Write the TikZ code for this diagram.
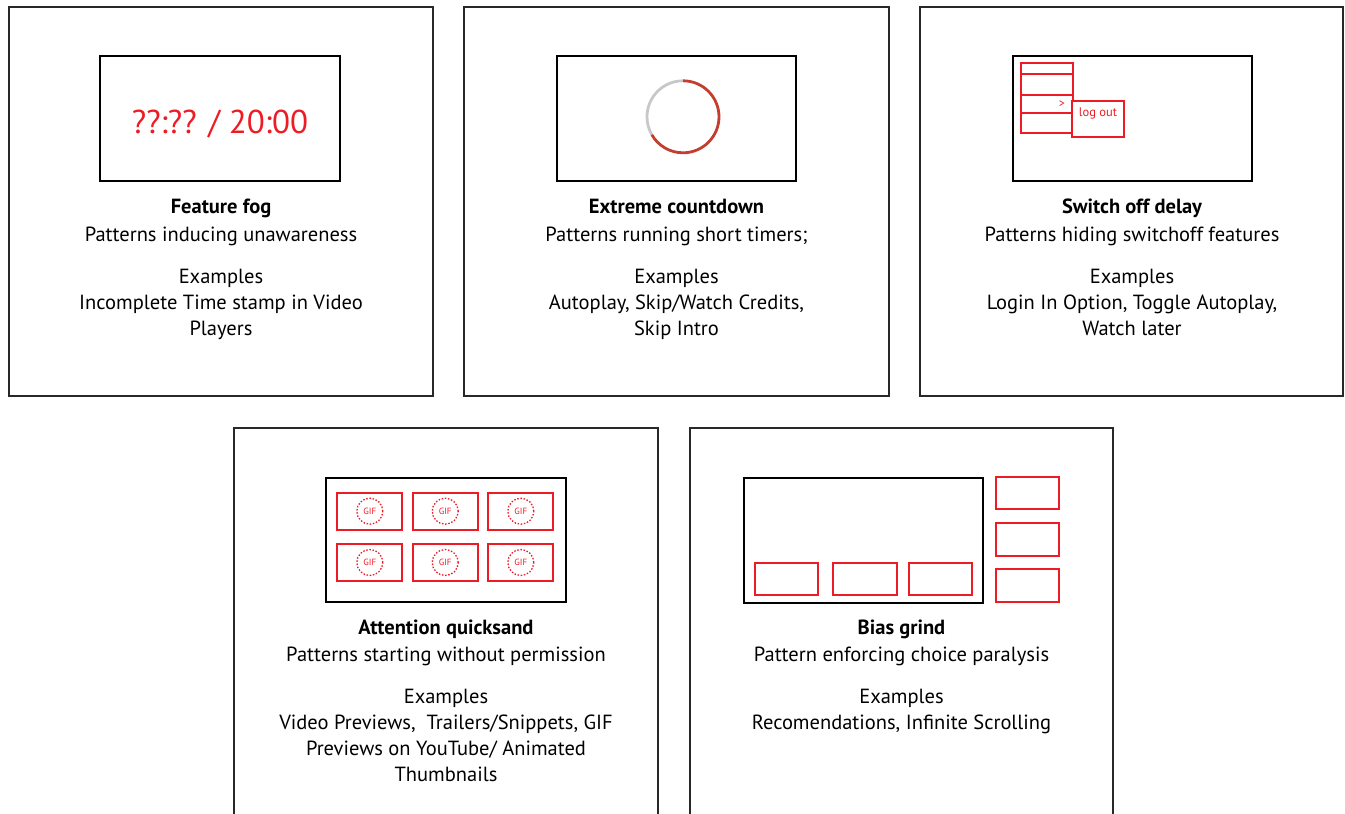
\documentclass[tikz,border=0pt]{standalone}
\usepackage{fontspec}
\setmainfont{PT Sans}
\usetikzlibrary{calc}
\definecolor{diagred}{RGB}{237,28,36}
\definecolor{arcred}{RGB}{196,62,48}
\definecolor{arcgray}{RGB}{200,200,200}
\definecolor{framecol}{RGB}{40,40,40}
\tikzset{
  outer/.style={draw=framecol, line width=1.3pt},
  screen/.style={draw=black, line width=2.2pt},
  redbox/.style={draw=diagred, line width=2.3pt},
  lbl/.style={anchor=base, inner sep=0pt, font=\fontsize{20.5}{24}\selectfont},
  ttl/.style={lbl, font=\fontsize{20.5}{24}\selectfont\bfseries},
  gif/.style={circle, draw=diagred, line width=1.3pt, dash pattern=on 1.5pt off 1.7pt, minimum size=26pt, inner sep=0pt, text=diagred, font=\fontsize{9}{10}\selectfont},
}
\begin{document}
\begin{tikzpicture}[x=1pt,y=-1pt]
\useasboundingbox (0,0) rectangle (1345,814);
% ---------- outer panels ----------
\draw[outer] (9,7) rectangle (433,396);
\draw[outer] (464,7) rectangle (889,396);
\draw[outer] (920,7) rectangle (1343,396);
\draw[outer] (234,830) -- (234,428) -- (658,428) -- (658,830);
\draw[outer] (690,830) -- (690,428) -- (1113,428) -- (1113,830);

% ---------- panel 1: feature fog ----------
\draw[screen] (100,56) rectangle (340,181);
\node[anchor=base, inner sep=0pt, text=diagred, font=\fontsize{33}{36}\selectfont] (time) at (220,133) {??:?? / 20:00};
\node[ttl] (t1) at (221,213) {Feature fog};
\node[lbl] (d1) at (221,241) {Patterns inducing unawareness};
\node[lbl] (e1) at (221,283) {Examples};
\node[lbl] (e1a) at (221,309) {Incomplete Time stamp in Video};
\node[lbl] (e1b) at (221,335) {Players};

% ---------- panel 2: extreme countdown ----------
\draw[screen] (557,56) rectangle (796,181);
\node[circle, minimum size=72pt, inner sep=0pt] (cd) at (683,117) {};
\draw[arcgray, line width=2.8pt] (cd.north) arc[start angle=90, end angle=210, radius=36pt];
\draw[arcred, line width=2.8pt] (cd.north) arc[start angle=90, end angle=-150, radius=36pt];
\node[ttl] (t2) at (676.5,213) {Extreme countdown};
\node[lbl] (d2) at (676.5,241) {Patterns running short timers;};
\node[lbl] (e2) at (676.5,283) {Examples};
\node[lbl] (e2a) at (676.5,309) {Autoplay, Skip/Watch Credits,};
\node[lbl] (e2b) at (676.5,335) {Skip Intro};

% ---------- panel 3: switch off delay ----------
\draw[screen] (1013,56) rectangle (1252,181);
\draw[redbox] (1020.7,62.7) rectangle (1072.7,132.7);
\draw[redbox] (1020.7,74) -- (1072.7,74);
\draw[redbox] (1020.7,95) -- (1072.7,95);
\draw[redbox] (1020.7,113) -- (1072.7,113);
\node[inner sep=0pt, text=diagred, font=\fontsize{12}{13}\selectfont] (gt) at (1062,104) {>};
\draw[redbox, fill=white] (1071.7,100.7) rectangle (1124.3,137.3);
\node[inner sep=0pt, text=diagred, font=\fontsize{12.5}{13}\selectfont] (lo) at (1098,113) {log out};
\node[ttl] (t3) at (1132,213) {Switch off delay};
\node[lbl] (d3) at (1132,241) {Patterns hiding switchoff features};
\node[lbl] (e3) at (1132,283) {Examples};
\node[lbl] (e3a) at (1132,309) {Login In Option, Toggle Autoplay,};
\node[lbl] (e3b) at (1132,335) {Watch later};

% ---------- panel 4: attention quicksand ----------
\draw[screen] (326,478) rectangle (566,602);
\foreach \yy/\r in {492.7/a,544/b}{
  \foreach \xx/\c in {337.3/1,412.7/2,488.3/3}{
    \draw[redbox] (\xx,\yy) rectangle ++(65,37);
    \node[gif] (g\r\c) at ($(\xx,\yy)+(32.5,18.5)$) {GIF};
  }
}
\node[ttl] (t4) at (446,634) {Attention quicksand};
\node[lbl] (d4) at (446,661) {Patterns starting without permission};
\node[lbl] (e4) at (446,703) {Examples};
\node[lbl] (e4a) at (446,729) {Video Previews,\ \ Trailers/Snippets, GIF};
\node[lbl] (e4b) at (446,755) {Previews on YouTube/ Animated};
\node[lbl] (e4c) at (446,781) {Thumbnails};

% ---------- panel 5: bias grind ----------
\draw[screen] (744,478.3) rectangle (982.7,602.7);
\draw[redbox] (755.3,562.7) rectangle (818.3,595);
\draw[redbox] (833.3,562.7) rectangle (896.7,595);
\draw[redbox] (909,562.7) rectangle (971.7,595);
\draw[redbox] (996,476.7) rectangle (1059.3,509.3);
\draw[redbox] (996,522.7) rectangle (1059.3,555.7);
\draw[redbox] (996,569) rectangle (1059.3,601.7);
\node[ttl] (t5) at (901.5,634) {Bias grind};
\node[lbl] (d5) at (901.5,661) {Pattern enforcing choice paralysis};
\node[lbl] (e5) at (901.5,703) {Examples};
\node[lbl] (e5a) at (901.5,729) {Recomendations, Infinite Scrolling};
\end{tikzpicture}
\end{document}
